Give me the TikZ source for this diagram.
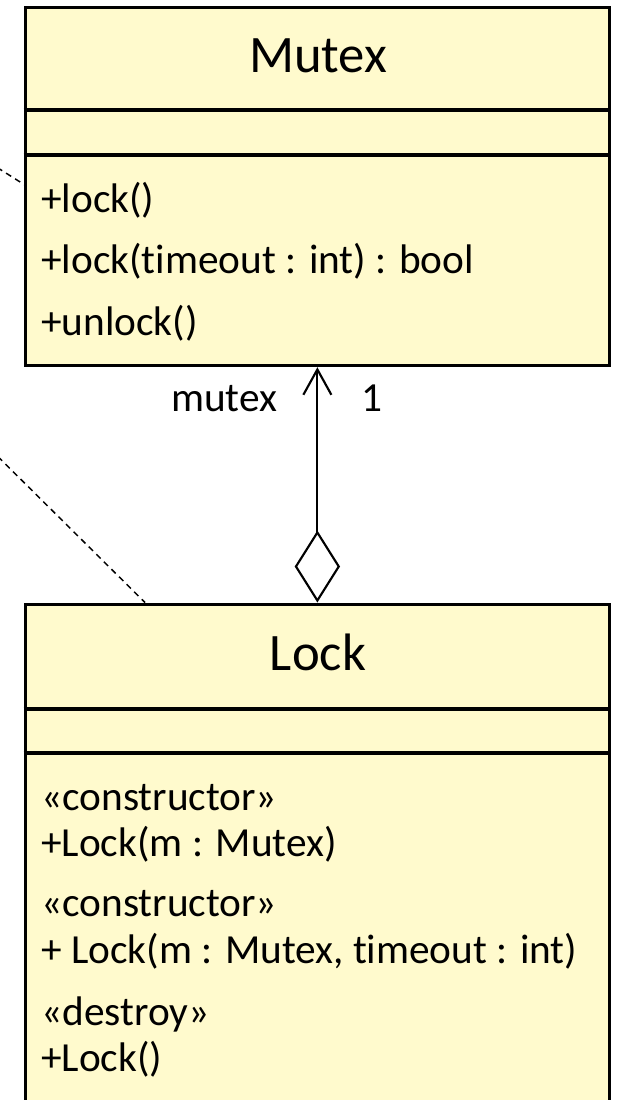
\documentclass[tikz,border=0pt]{standalone}
\usepackage{fontspec}
\setmainfont{Carlito}[Ligatures={NoCommon}]
\usetikzlibrary{arrows.meta}
\definecolor{umlfill}{RGB}{255,250,205}
\tikzset{
  classbox/.style={draw, line width=2.8pt, fill=umlfill, inner sep=0pt,
    minimum width=438pt, anchor=north west},
  sepline/.style={line width=2.6pt},
  classname/.style={anchor=base, inner sep=0pt, font=\fontsize{39.5}{46}\selectfont},
  member/.style={anchor=base west, inner sep=0pt, font=\fontsize{31}{36}\selectfont},
  rolelabel/.style={anchor=base west, inner sep=0pt, font=\fontsize{31}{36}\selectfont},
  assoc/.style={line width=1.6pt,
    {Diamond[open, length=54pt, width=34pt]}-{Straight Barb[length=19pt, width=21pt]}},
  notelink/.style={line width=1.1pt, dash pattern=on 4.5pt off 3.5pt}
}
\begin{document}
\begin{tikzpicture}[x=0.75pt, y=-0.75pt]
  \useasboundingbox (0,0) rectangle (620,1100);
  \clip (0,0) rectangle (620,1100);

  % class Mutex
  \node[classbox, minimum height=268.5pt] (mutex) at (23.5,5.5) {};
  \draw[sepline] (mutex.north west) ++(0,104.5) -- ++(587,0);
  \draw[sepline] (mutex.north west) ++(0,149.5) -- ++(587,0);
  \node[classname] (mutexname) at (318,72.7) {Mutex};
  \node[member] (m1) at (41,212) {+lock()};
  \node[member] (m2) at (41,273) {+lock(timeout : int) : bool};
  \node[member] (m3) at (41,335) {+unlock()};

  % class Lock
  \node[classbox, minimum height=379.5pt] (lock) at (23.5,602.5) {};
  \draw[sepline] (lock.north west) ++(0,106.5) -- ++(587,0);
  \draw[sepline] (lock.north west) ++(0,150.5) -- ++(587,0);
  \node[classname] (lockname) at (318,670) {Lock};
  \node[member] (l1) at (41,810) {«constructor»};
  \node[member] (l2) at (41,856.7) {+Lock(m : Mutex)};
  \node[member] (l3) at (41,916.7) {«constructor»};
  \node[member] (l4) at (41,963) {+ Lock(m : Mutex, timeout : int)};
  \node[member] (l5) at (41,1025) {«destroy»};
  \node[member] (l6) at (41,1071.7) {+Lock()};

  % aggregation Lock -> Mutex
  \draw[assoc] (lock.north) -- (mutex.south);
  \node[rolelabel] (role) at (171,411.7) {mutex};
  \node[rolelabel] (mult) at (361,411.7) {1};

  % note links coming in from the left
  \path (mutex.north west) ++(3,180.5) coordinate (mA);
  \coordinate (noteA) at (-30,150.4);
  \draw[notelink] (noteA) -- (mA);
  \path (lock.north west) ++(121.5,0) coordinate (lB);
  \coordinate (noteB) at (-40,419);
  \draw[notelink] (noteB) -- (lB);
\end{tikzpicture}
\end{document}
